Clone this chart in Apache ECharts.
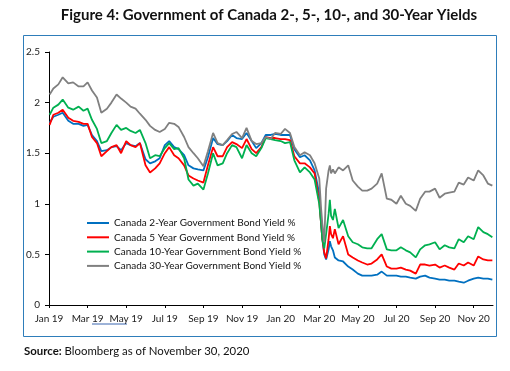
<!DOCTYPE html>
<html><head><meta charset="utf-8">
<script src="https://cdn.jsdelivr.net/npm/echarts@6/dist/echarts.min.js"></script>
<style>html,body{margin:0;padding:0;background:#fff}#c{width:510px;height:371px}</style>
</head><body><div id="c"></div>
<script>
const dates = [
'2019-01-02','2019-01-08','2019-01-16','2019-01-23',
'2019-02-01','2019-02-08','2019-02-16','2019-02-23',
'2019-03-01','2019-03-08','2019-03-16','2019-03-23',
'2019-04-01','2019-04-08','2019-04-16','2019-04-23',
'2019-05-01','2019-05-08','2019-05-16','2019-05-23',
'2019-06-01','2019-06-08','2019-06-16','2019-06-23',
'2019-07-01','2019-07-08','2019-07-16','2019-07-23',
'2019-08-01','2019-08-08','2019-08-16','2019-08-23',
'2019-09-01','2019-09-08','2019-09-16','2019-09-23',
'2019-10-01','2019-10-08','2019-10-16','2019-10-23',
'2019-11-01','2019-11-08','2019-11-16','2019-11-23',
'2019-12-01','2019-12-08','2019-12-16','2019-12-23',
'2020-01-01','2020-01-08','2020-01-16','2020-01-23',
'2020-02-01','2020-02-08','2020-02-16','2020-02-23',
'2020-03-01','2020-03-04','2020-03-06','2020-03-09','2020-03-12','2020-03-16','2020-03-18','2020-03-20','2020-03-23','2020-03-26',
'2020-04-01','2020-04-08','2020-04-16','2020-04-23',
'2020-05-01','2020-05-08','2020-05-16','2020-05-23',
'2020-06-01','2020-06-08','2020-06-16','2020-06-23',
'2020-07-01','2020-07-08','2020-07-16','2020-07-23',
'2020-08-01','2020-08-08','2020-08-16','2020-08-23',
'2020-09-01','2020-09-08','2020-09-16','2020-09-23',
'2020-10-01','2020-10-08','2020-10-16','2020-10-23',
'2020-11-01','2020-11-08','2020-11-16','2020-11-23','2020-11-30'
];
const yield2 = [
1.80,1.86,1.88,1.90, 1.82,1.79,1.79,1.77, 1.78,1.68,1.62,1.52, 1.53,1.56,1.57,1.53,
1.60,1.58,1.57,1.60, 1.44,1.40,1.42,1.45, 1.58,1.62,1.56,1.54, 1.48,1.38,1.35,1.34,
1.33,1.46,1.65,1.59, 1.58,1.62,1.68,1.65, 1.64,1.70,1.62,1.55, 1.60,1.68,1.68,1.69,
1.68,1.68,1.68,1.54, 1.46,1.48,1.43,1.33,
1.10,0.80,0.65,0.50,0.45,0.55,0.63,0.58,0.54,0.47,
0.44,0.43,0.38,0.35, 0.31,0.29,0.29,0.29, 0.30,0.33,0.29,0.29, 0.29,0.28,0.28,0.27,
0.26,0.28,0.29,0.27, 0.26,0.25,0.25,0.24, 0.24,0.23,0.22,0.24, 0.26,0.27,0.26,0.26,0.25
];
const yield5 = [
1.78,1.88,1.90,1.93, 1.85,1.82,1.81,1.79, 1.79,1.66,1.60,1.47, 1.52,1.56,1.58,1.50,
1.62,1.58,1.56,1.60, 1.38,1.31,1.35,1.40, 1.50,1.56,1.48,1.45, 1.38,1.28,1.25,1.23,
1.21,1.38,1.56,1.47, 1.47,1.56,1.61,1.59, 1.55,1.64,1.54,1.50, 1.56,1.66,1.65,1.65,
1.64,1.64,1.63,1.47, 1.40,1.40,1.36,1.30,
1.02,0.80,0.65,0.52,0.46,0.65,0.78,0.70,0.66,0.75,
0.60,0.68,0.50,0.47, 0.44,0.42,0.40,0.41, 0.45,0.50,0.38,0.36, 0.36,0.37,0.35,0.34,
0.31,0.40,0.40,0.39, 0.40,0.37,0.39,0.37, 0.35,0.41,0.39,0.42, 0.39,0.48,0.45,0.44,0.44
];
const yield10 = [
1.88,1.95,1.98,2.03, 1.95,1.93,1.96,1.92, 1.94,1.83,1.74,1.60, 1.62,1.70,1.78,1.73,
1.75,1.72,1.70,1.73, 1.60,1.45,1.48,1.47, 1.55,1.60,1.54,1.55, 1.45,1.24,1.18,1.20,
1.14,1.30,1.50,1.38, 1.40,1.50,1.58,1.56, 1.45,1.58,1.50,1.47, 1.55,1.65,1.64,1.63,
1.62,1.60,1.61,1.43, 1.31,1.36,1.31,1.24,
1.00,0.80,0.65,0.56,0.70,0.90,1.04,0.88,0.84,0.95,
0.76,0.84,0.68,0.62, 0.60,0.57,0.56,0.56, 0.65,0.70,0.55,0.54, 0.54,0.57,0.54,0.52,
0.47,0.55,0.59,0.60, 0.62,0.55,0.59,0.57, 0.56,0.65,0.62,0.68, 0.65,0.77,0.72,0.70,0.67
];
const yield30 = [
2.08,2.14,2.18,2.25, 2.19,2.20,2.16,2.16, 2.20,2.12,2.05,1.90, 1.94,2.00,2.08,2.04,
2.00,1.96,1.94,1.89, 1.83,1.77,1.73,1.71, 1.74,1.80,1.79,1.76, 1.66,1.56,1.50,1.45,
1.37,1.52,1.70,1.60, 1.58,1.63,1.69,1.71, 1.65,1.75,1.62,1.59, 1.60,1.66,1.64,1.70,
1.69,1.74,1.70,1.56, 1.48,1.51,1.48,1.40,
1.25,0.95,0.80,0.62,1.15,1.33,1.38,1.30,1.34,1.30,
1.36,1.33,1.38,1.23, 1.17,1.13,1.13,1.15, 1.20,1.30,1.05,1.04, 1.00,1.08,1.00,0.98,
0.93,1.05,1.12,1.12, 1.15,1.06,1.10,1.11, 1.12,1.21,1.19,1.26, 1.23,1.33,1.28,1.20,1.18
];
const seriesNames = [
'Canada 2-Year Government Bond Yield %',
'Canada 5 Year Government Bond Yield %',
'Canada 10-Year Government Bond Yield %',
'Canada 30-Year Government Bond Yield %'
];
const xTickLabels = ['Jan 19','Mar 19','May 19','Jul 19','Sep 19','Nov 19','Jan 20','Mar 20','May 20','Jul 20','Sep 20','Nov 20'];
const yTickLabels = ['0','0.5','1','1.5','2','2.5'];

const colors = ['#0070C0','#FF0000','#00B050','#808080'];
const FONT = 'Lato, "Noto Sans", sans-serif';

function monthPos(s){
  const p = s.split('-').map(Number);
  const dim = new Date(p[0], p[1], 0).getDate();
  return (p[0]-2019)*12 + (p[1]-1) + (p[2]-1)/dim;
}
const xs = dates.map(monthPos);
const allSeries = [yield2, yield5, yield10, yield30];
const xTickVals = xTickLabels.map((_, i) => i*2);

const chart = echarts.init(document.getElementById('c'), null, {renderer:'canvas'});
chart.setOption({
  animation:false,
  backgroundColor:'#fff',
  grid:{left:49, right:17, top:52, bottom:66, containLabel:false},
  legend:{
    orient:'vertical', left:82, top:213, itemGap:4.3,
    itemWidth:22, itemHeight:2, icon:'rect',
    data: seriesNames,
    textStyle:{fontFamily:FONT, fontSize:10, color:'#111'}
  },
  xAxis:{
    type:'value', min:0, max:23, interval:2,
    splitLine:{show:false},
    axisLine:{lineStyle:{color:'#000', width:1}},
    axisTick:{show:true, length:3, customValues:xTickVals, lineStyle:{color:'#000'}},
    axisLabel:{customValues:xTickVals, margin:9, fontFamily:FONT, fontSize:10, color:'#222',
      formatter:v => { const i = Math.round(v/2); return (Math.abs(v - i*2) < 1e-6 && xTickLabels[i]) ? xTickLabels[i] : ''; }}
  },
  yAxis:{
    type:'value', min:0, max:2.5, interval:0.5,
    splitLine:{show:false},
    axisLine:{show:true, lineStyle:{color:'#000', width:1}},
    axisTick:{show:true, length:4, lineStyle:{color:'#000'}},
    axisLabel:{margin:9, fontFamily:FONT, fontSize:10, color:'#222',
      formatter:v => yTickLabels[Math.round(v/0.5)]}
  },
  series: allSeries.map((vals, k) => ({
    name: seriesNames[k], type:'line', showSymbol:false, symbol:'none',
    lineStyle:{color:colors[k], width:1.8}, itemStyle:{color:colors[k]},
    data: vals.map((v, i) => [xs[i], v])
  })),
  graphic:[
    {type:'rect', shape:{x:23.5, y:35.5, width:473, height:301}, style:{fill:null, stroke:'#2E7DBA', lineWidth:1}, silent:true, z:-1},
    {type:'text', x:269, y:15, style:{text:'Figure 4: Government of Canada 2-, 5-, 10-, and 30-Year Yields', textAlign:'center', textVerticalAlign:'middle', fontFamily:FONT, fontWeight:'bold', fontSize:15, fill:'#111'}},
    {type:'text', x:24, y:351, style:{text:'{b|Source:} Bloomberg as of November 30, 2020', textVerticalAlign:'middle', fontFamily:FONT, fontSize:11.4, fill:'#111',
      rich:{b:{fontFamily:FONT, fontWeight:'bold', fontSize:11.4, fill:'#111'}}}},
    {type:'line', shape:{x1:92, y1:324, x2:127, y2:324}, style:{stroke:'#3A66B0', lineWidth:1}}
  ]
});
</script></body></html>
